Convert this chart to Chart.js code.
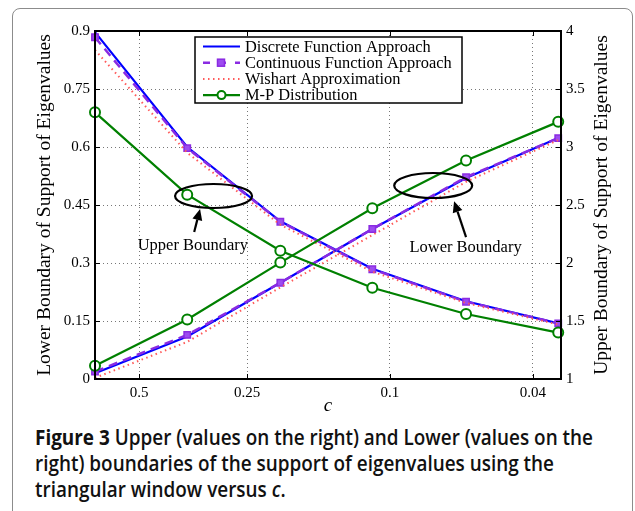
<!DOCTYPE html>
<html>
<head>
<meta charset="utf-8">
<script src="https://cdn.jsdelivr.net/npm/chart.js@4/dist/chart.umd.min.js"></script>
<style>
  html, body { margin: 0; padding: 0; background: #fff; }
  body { width: 635px; height: 511px; position: relative; overflow: hidden; }
  #frame { position: absolute; left: 12px; top: 8px; width: 619px; height: 540px;
           border: 1px solid #8c8c8c; border-radius: 8px; }
  #wrap { position: absolute; left: 0; top: 0; width: 635px; height: 420px; }
  #caption { position: absolute; left: 35px; top: 424px;
             font-family: "Open Sans", "Noto Sans", sans-serif;
             font-weight: 600; font-size: 21px; line-height: 26px; color: #111;
             white-space: nowrap; transform-origin: 0 0; }
  #caption b { font-weight: 700; }
  #caption span { display: block; }
</style>
</head>
<body>
<div id="frame"></div>
<div id="wrap"><canvas id="chart" width="635" height="420"></canvas></div>
<div id="caption"><span id="capLine1"><b>Figure 3</b> Upper (values on the right) and Lower (values on the</span><span>right) boundaries of the support of eigenvalues using the</span><span>triangular window versus <i>c</i>.</span></div>
<script>
// c values (x axis, log scale, decreasing to the right)
const cValues = [0.663, 0.367, 0.202, 0.112, 0.0614, 0.034];
const xTicks = [0.5, 0.25, 0.1, 0.04];

// lower boundary (left axis)
const discreteLower = [0.015, 0.11, 0.249, 0.388, 0.52, 0.623];
const continuousLower = [0.019, 0.114, 0.249, 0.388, 0.522, 0.623];
const wishartLower = [0.003, 0.096, 0.237, 0.372, 0.51, 0.618];
const mpLower = [0.034, 0.154, 0.301, 0.4415, 0.565, 0.665];

// upper boundary (right axis)
const discreteUpper = [3.99, 3.0, 2.36, 1.95, 1.67, 1.48];
const continuousUpper = [3.946, 2.99, 2.356, 1.946, 1.666, 1.48];
const wishartUpper = [3.836, 2.95, 2.33, 1.925, 1.655, 1.47];
const mpUpper = [3.299, 2.589, 2.106, 1.787, 1.56, 1.40];

const legendLabels = ['Discrete Function Approach', 'Continuous Function Approach', 'Wishart Approximation', 'M-P Distribution'];

const BLUE = '#0000ff', PURPLE = '#8a2be2', RED = '#ff5a5a', GREEN = '#008000';
const serif = '"Liberation Serif", "Times New Roman", serif';

const pts = arr => arr.map((v, i) => ({ x: cValues[i], y: v }));

const styles = [
    { color: BLUE, dash: [], width: 2.2, point: false, pointBg: BLUE, order: 3 },
    { color: PURPLE, dash: [9, 6], width: 2.5, point: 'rect', pointBg: '#9d4cf0', order: 2 },
    { color: RED, dash: [1.5, 3.5], width: 2, point: false, pointBg: RED, order: 1 },
    { color: GREEN, dash: [], width: 2.2, point: 'circle', pointBg: '#ffffff', order: 0 },
];

function makeSet(s, data, axis) {
    return {
        data: pts(data),
        yAxisID: axis,
        borderColor: s.color,
        borderWidth: s.width,
        borderDash: s.dash,
        pointStyle: s.point || 'circle',
        pointRadius: s.point ? (s.point === 'rect' ? 4.5 : 5) : 0,
        pointBorderWidth: s.point === 'rect' ? 1.5 : 2,
        pointBorderColor: s.color,
        pointBackgroundColor: s.pointBg,
        tension: 0,
        clip: false,
        order: s.order,
    };
}

const lowerData = [discreteLower, continuousLower, wishartLower, mpLower];
const upperData = [discreteUpper, continuousUpper, wishartUpper, mpUpper];
const datasets = [];
styles.forEach((s, i) => {
    datasets.push(makeSet(s, lowerData[i], 'yL'));
    datasets.push(makeSet(s, upperData[i], 'yR'));
});

// annotations (ellipses, arrows, labels) in data coordinates of x / left axis
const ellipses = [
    { c: 0.310, v: 0.4733, rx: 38.5, ry: 12 },
    { c: 0.0758, v: 0.5004, rx: 39, ry: 12.5 },
];
const arrows = [
    { c0: 0.351, v0: 0.380, c1: 0.338, v1: 0.4397 },
    { c0: 0.0614, v0: 0.367, c1: 0.0663, v1: 0.460 },
];
const notes = [
    { text: 'Upper Boundary', c: 0.354, v: 0.345 },
    { text: 'Lower Boundary', c: 0.0616, v: 0.339 },
];

const matlabPlugin = {
    id: 'matlab',
    afterDraw(chart) {
        const { ctx, chartArea: a, scales } = chart;
        const sx = scales.x, sy = scales.yL;
        ctx.save();

        // inner tick marks
        ctx.strokeStyle = '#000';
        ctx.lineWidth = 1;
        ctx.setLineDash([]);
        ctx.beginPath();
        xTicks.forEach(t => {
            const px = Math.round(sx.getPixelForValue(t)) + 0.5;
            ctx.moveTo(px, a.bottom); ctx.lineTo(px, a.bottom - 5);
            ctx.moveTo(px, a.top); ctx.lineTo(px, a.top + 5);
        });
        sy.ticks.forEach(t => {
            const py = Math.round(sy.getPixelForValue(t.value)) + 0.5;
            ctx.moveTo(a.left, py); ctx.lineTo(a.left + 5, py);
            ctx.moveTo(a.right, py); ctx.lineTo(a.right - 5, py);
        });
        ctx.stroke();

        // box
        ctx.lineWidth = 2;
        ctx.strokeRect(a.left, a.top, a.right - a.left, a.bottom - a.top);

        // legend
        const lx = 195, ly = 37, lw = 267, lh = 66;
        ctx.fillStyle = '#fff';
        ctx.fillRect(lx, ly, lw, lh);
        ctx.lineWidth = 1.5;
        ctx.strokeRect(lx, ly, lw, lh);
        ctx.font = '16.4px ' + serif;
        ctx.textBaseline = 'middle';
        ctx.textAlign = 'left';
        legendLabels.forEach((lab, i) => {
            const s = styles[i];
            const yy = ly + 9.5 + i * 16.2;
            ctx.strokeStyle = s.color;
            ctx.lineWidth = s.width;
            ctx.setLineDash(s.dash.length ? (i === 1 ? [7, 9] : s.dash) : []);
            ctx.beginPath();
            ctx.moveTo(203, yy); ctx.lineTo(240, yy);
            ctx.stroke();
            ctx.setLineDash([]);
            if (s.point === 'rect') {
                ctx.fillStyle = s.pointBg;
                ctx.fillRect(217.5, yy - 3.5, 7, 7);
                ctx.lineWidth = 1.5;
                ctx.strokeRect(217.5, yy - 3.5, 7, 7);
            } else if (s.point === 'circle') {
                ctx.fillStyle = '#fff';
                ctx.lineWidth = 2;
                ctx.beginPath();
                ctx.arc(221.5, yy, 4, 0, Math.PI * 2);
                ctx.fill(); ctx.stroke();
            }
            ctx.fillStyle = '#000';
            ctx.fillText(lab, 245, yy + 1);
        });

        // ellipses
        ctx.strokeStyle = '#000';
        ctx.lineWidth = 2.2;
        ellipses.forEach(e => {
            ctx.beginPath();
            ctx.ellipse(sx.getPixelForValue(e.c), sy.getPixelForValue(e.v), e.rx, e.ry, 0, 0, Math.PI * 2);
            ctx.stroke();
        });

        // arrows
        arrows.forEach(r => {
            const x0 = sx.getPixelForValue(r.c0), y0 = sy.getPixelForValue(r.v0);
            const x1 = sx.getPixelForValue(r.c1), y1 = sy.getPixelForValue(r.v1);
            const ang = Math.atan2(y1 - y0, x1 - x0);
            const hl = 11, hw = 5;
            const bx = x1 - hl * Math.cos(ang), by = y1 - hl * Math.sin(ang);
            ctx.lineWidth = 2.2;
            ctx.beginPath();
            ctx.moveTo(x0, y0); ctx.lineTo(bx, by);
            ctx.stroke();
            ctx.fillStyle = '#000';
            ctx.beginPath();
            ctx.moveTo(x1, y1);
            ctx.lineTo(bx + hw * Math.sin(ang), by - hw * Math.cos(ang));
            ctx.lineTo(bx - hw * Math.sin(ang), by + hw * Math.cos(ang));
            ctx.closePath();
            ctx.fill();
        });

        // annotation text
        ctx.font = '16.5px ' + serif;
        ctx.textAlign = 'center';
        ctx.fillStyle = '#000';
        notes.forEach(n => {
            ctx.fillText(n.text, sx.getPixelForValue(n.c), sy.getPixelForValue(n.v));
        });

        // axis titles
        const midY = (a.top + a.bottom) / 2;
        ctx.font = '19.5px ' + serif;
        ctx.save();
        ctx.translate(45, midY);
        ctx.rotate(-Math.PI / 2);
        ctx.fillText('Lower Boundary of Support of Eigenvalues', 0, 0);
        ctx.restore();
        ctx.save();
        ctx.translate(602, midY);
        ctx.rotate(-Math.PI / 2);
        ctx.fillText('Upper Boundary of Support of Eigenvalues', 0, 0);
        ctx.restore();
        ctx.font = 'italic 19px ' + serif;
        ctx.fillText('c', 328, 406);

        ctx.restore();
    }
};

new Chart(document.getElementById('chart'), {
    type: 'line',
    data: { datasets },
    options: {
        responsive: false,
        animation: false,
        events: [],
        layout: { padding: { top: 31, left: 0, right: 0, bottom: 0 } },
        plugins: { legend: { display: false }, tooltip: { enabled: false } },
        scales: {
            x: {
                type: 'logarithmic',
                reverse: true,
                min: 0.0334,
                max: 0.663,
                afterBuildTicks: scale => { scale.ticks = xTicks.map(v => ({ value: v })); },
                afterFit: scale => { scale.height = 41; },
                ticks: {
                    autoSkip: false,
                    maxRotation: 0,
                    padding: 5,
                    color: '#000',
                    font: { family: serif, size: 15 },
                    callback: v => String(v),
                },
                grid: { color: '#777', lineWidth: 1, drawTicks: false },
                border: { display: false, dash: [1, 3] },
            },
            yL: {
                position: 'left',
                min: 0,
                max: 0.9,
                afterFit: scale => { scale.width = 95; },
                ticks: {
                    stepSize: 0.15,
                    padding: 5,
                    color: '#000',
                    font: { family: serif, size: 15 },
                    callback: v => String(Number(v.toFixed(2))),
                },
                grid: { color: '#777', lineWidth: 1, drawTicks: false },
                border: { display: false, dash: [1, 3] },
            },
            yR: {
                position: 'right',
                min: 1,
                max: 4,
                afterFit: scale => { scale.width = 74; },
                ticks: {
                    stepSize: 0.5,
                    padding: 5,
                    color: '#000',
                    font: { family: serif, size: 15 },
                    callback: v => String(Number(v.toFixed(1))),
                },
                grid: { display: false, drawTicks: false },
                border: { display: false },
            },
        },
    },
    plugins: [matlabPlugin],
});

// squeeze the caption horizontally so the first line spans like the reference
const cap = document.getElementById('caption');
const lineW = document.getElementById('capLine1').getBoundingClientRect().width;
const line1 = document.createRange();
line1.selectNodeContents(document.getElementById('capLine1'));
const textW = line1.getBoundingClientRect().width || lineW;
cap.style.transform = 'scaleX(' + (558 / textW) + ')';
</script>
</body>
</html>
